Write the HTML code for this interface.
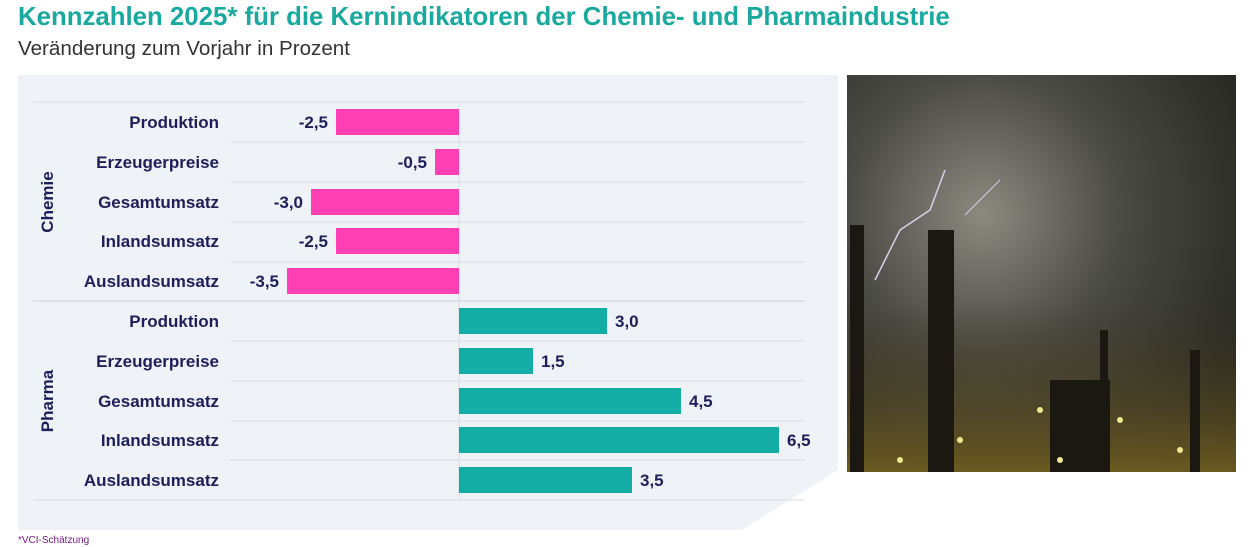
<!DOCTYPE html>
<html><head><meta charset="utf-8"><style>
body{margin:0;width:1253px;height:547px;overflow:hidden;background:#fff;font-family:"Liberation Sans","DejaVu Sans",sans-serif;position:relative}
.t{position:absolute;left:18px;top:3px;font-size:25.8px;font-weight:bold;color:#1aa99e}
.s{position:absolute;left:18px;top:37px;font-size:20.6px;color:#333}
.f{position:absolute;left:18px;top:535px;font-size:10px;color:#7a1a8a}
</style></head><body>
<div class="t">Kennzahlen 2025* für die Kernindikatoren der Chemie- und Pharmaindustrie</div>
<div class="s">Veränderung zum Vorjahr in Prozent</div>
<svg width="1253" height="547" style="position:absolute;left:0;top:0">
<defs>
<radialGradient id="sky" cx="0.35" cy="0.35" r="0.9"><stop offset="0" stop-color="#8a8a80"/><stop offset="0.4" stop-color="#4a4a44"/><stop offset="1" stop-color="#1a1a16"/></radialGradient>
<linearGradient id="gr" x1="0" y1="0" x2="0" y2="1"><stop offset="0" stop-color="#3a3420" stop-opacity="0"/><stop offset="1" stop-color="#6a5a20"/></linearGradient>
</defs>
<polygon points="18,75 838,75 838,470 742,530 18,530" fill="#eff2f7"/>
<g stroke="#d9dce4" stroke-width="1">
<line x1="33" y1="102" x2="805" y2="102"/><line x1="230" y1="142" x2="805" y2="142"/><line x1="230" y1="182" x2="805" y2="182"/><line x1="230" y1="222" x2="805" y2="222"/><line x1="230" y1="262" x2="805" y2="262"/>
<line x1="33" y1="301" x2="805" y2="301" stroke-width="1.5"/>
<line x1="230" y1="341" x2="805" y2="341"/><line x1="230" y1="381" x2="805" y2="381"/><line x1="230" y1="421" x2="805" y2="421"/><line x1="230" y1="460" x2="805" y2="460"/>
<line x1="33" y1="500" x2="805" y2="500"/>
<line x1="459" y1="102" x2="459" y2="500"/>
</g>
<g fill="#ff40b4">
<rect x="336" y="109" width="123" height="26"/><rect x="435" y="149" width="24" height="26"/><rect x="311" y="189" width="148" height="26"/><rect x="336" y="228" width="123" height="26"/><rect x="287" y="268" width="172" height="26"/>
</g>
<g fill="#14ada6">
<rect x="459" y="308" width="148" height="26"/><rect x="459" y="348" width="74" height="26"/><rect x="459" y="388" width="222" height="26"/><rect x="459" y="427" width="320" height="26"/><rect x="459" y="467" width="173" height="26"/>
</g>
<g font-size="17" font-weight="bold" fill="#1e1e5a">
<g text-anchor="end">
<text x="219" y="128">Produktion</text><text x="219" y="168">Erzeugerpreise</text><text x="219" y="208">Gesamtumsatz</text><text x="219" y="247">Inlandsumsatz</text><text x="219" y="287">Auslandsumsatz</text>
<text x="219" y="327">Produktion</text><text x="219" y="367">Erzeugerpreise</text><text x="219" y="407">Gesamtumsatz</text><text x="219" y="446">Inlandsumsatz</text><text x="219" y="486">Auslandsumsatz</text>
<text x="328" y="128">-2,5</text><text x="427" y="168">-0,5</text><text x="303" y="208">-3,0</text><text x="328" y="247">-2,5</text><text x="279" y="287">-3,5</text>
</g>
<text x="615" y="327">3,0</text><text x="541" y="367">1,5</text><text x="689" y="407">4,5</text><text x="787" y="446">6,5</text><text x="640" y="486">3,5</text>
<text transform="translate(53,202) rotate(-90)" text-anchor="middle">Chemie</text>
<text transform="translate(53,401) rotate(-90)" text-anchor="middle">Pharma</text>
</g>
<rect x="847" y="75" width="389" height="397" fill="url(#sky)"/>
<rect x="847" y="300" width="389" height="172" fill="url(#gr)"/>
<g fill="#1a1810"><rect x="928" y="230" width="26" height="242"/><rect x="850" y="225" width="14" height="247"/><rect x="1100" y="330" width="8" height="142"/><rect x="1190" y="350" width="10" height="122"/><rect x="1050" y="380" width="60" height="92"/></g>
<g fill="#f0e890"><circle cx="1040" cy="410" r="3"/><circle cx="1120" cy="420" r="3"/><circle cx="960" cy="440" r="3"/><circle cx="1180" cy="450" r="3"/><circle cx="900" cy="460" r="3"/><circle cx="1060" cy="460" r="3"/></g>
<polyline points="945,170 930,210 900,230 875,280" stroke="#d8d0e8" stroke-width="1.5" fill="none"/>
<polyline points="1000,180 980,200 965,215" stroke="#d8d0e8" stroke-width="1" fill="none"/>
</svg>
<div class="f">*VCI-Schätzung</div>
</body></html>
